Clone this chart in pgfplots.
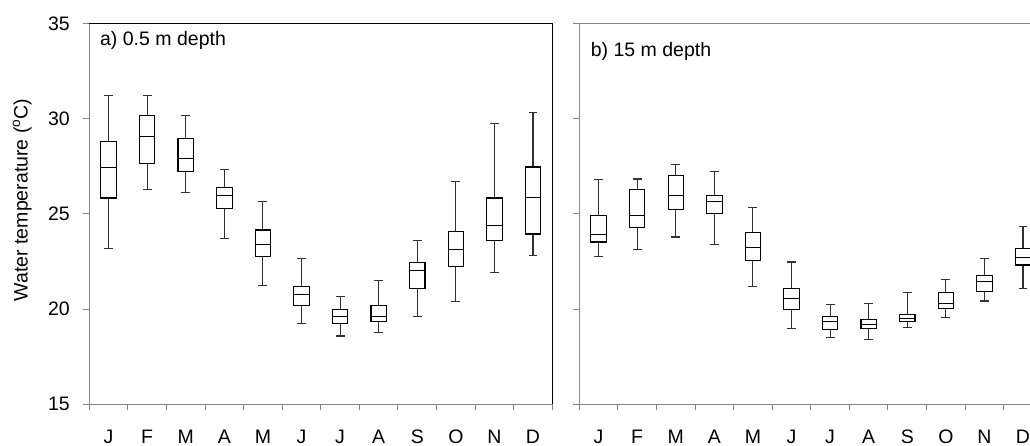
\documentclass[border=0pt]{standalone}
\usepackage{fontspec}
\setmainfont{Liberation Sans}
\usepackage{pgfplots}
\usepackage{pgfplotstable}
\pgfplotsset{compat=1.18}
\definecolor{axgray}{RGB}{134,134,134}
\definecolor{whisk}{RGB}{50,50,50}

% pos, lower whisker, lower quartile, median, upper quartile, upper whisker
\pgfplotstableread{
pos lw lq med uq uw
0.5 23.20 25.84 27.42 28.82 31.22
1.5 26.30 27.64 29.05 30.18 31.22
2.5 26.12 27.24 27.91 28.96 30.18
3.5 23.69 25.30 25.95 26.38 27.35
4.5 21.23 22.76 23.41 24.16 25.68
5.5 19.26 20.17 20.76 21.18 22.67
6.5 18.59 19.24 19.61 19.99 20.66
7.5 18.75 19.33 19.61 20.17 21.50
8.5 19.62 21.08 22.01 22.43 23.63
9.5 20.38 22.22 23.14 24.07 26.70
10.5 21.94 23.63 24.39 25.84 29.75
11.5 22.81 23.95 25.89 27.47 30.32
}\dataA
\pgfplotstableread{
pos lw lq med uq uw
0.5 22.76 23.53 23.91 24.93 26.79
1.5 23.14 24.28 24.93 26.30 26.84
2.5 23.79 25.25 25.96 27.01 27.59
3.5 23.41 25.04 25.65 25.96 27.22
4.5 21.20 22.55 23.25 24.02 25.32
5.5 18.98 19.99 20.55 21.09 22.48
6.5 18.52 18.91 19.36 19.61 20.25
7.5 18.42 18.96 19.20 19.45 20.31
8.5 19.03 19.34 19.52 19.73 20.87
9.5 19.57 20.04 20.31 20.87 21.57
10.5 20.43 20.92 21.44 21.78 22.67
11.5 21.09 22.32 22.72 23.20 24.33
}\dataB

\pgfplotsset{
  base/.style={
    scale only axis, width=463pt, height=380.6pt,
    xmin=0, xmax=12, ymin=15, ymax=35,
  },
  panel/.style={
    base,
    ytick={15,20,25,30,35},
    xtick={0.5,1.5,2.5,3.5,4.5,5.5,6.5,7.5,8.5,9.5,10.5,11.5},
    xticklabels={J,F,M,A,M,J,J,A,S,O,N,D},
    minor xtick={0,1,2,3,4,5,6,7,8,9,10,11,12},
    xtick pos=bottom, ytick pos=left,
    tick align=outside,
    major tick length=6pt, minor tick length=6pt,
    tick style={axgray, line width=1pt},
    major x tick style={draw=none},
    axis line style={axgray, line width=1.1pt},
    tick label style={font=\fontsize{19.5}{23}\selectfont},
    /pgf/number format/assume math mode=true,
    xticklabel style={anchor=north, inner sep=0pt, text depth=0pt, yshift=-19.7pt},
    yticklabel style={anchor=east, inner sep=0pt, xshift=-13.3pt},
    clip=false,
  },
  upw/.style={draw=none, mark=none, forget plot,
    error bars/.cd, y dir=plus, y explicit, error mark=|,
    error mark options={whisk, mark size=4.44pt, line width=1.1pt},
    error bar style={whisk, line width=1.1pt}},
  lowh/.style={draw=none, mark=none, forget plot,
    error bars/.cd, y dir=minus, y explicit, error mark=|,
    error mark options={whisk, mark size=4.44pt, line width=1.1pt},
    error bar style={whisk, line width=1.1pt}},
  med/.style={only marks, mark=-, mark size=7.72pt, forget plot,
    mark options={draw=black, line width=1.1pt}},
  boxes/.style={base, hide axis, ybar stacked, bar width=0.4, bar shift=0pt},
}
\begin{document}
\begin{tikzpicture}
\useasboundingbox (0,0) rectangle (1030pt,446pt);
\clip (0,0) rectangle (1030pt,446pt);
% ---------- panel a ----------
\begin{axis}[panel, at={(89.3pt,41.7pt)}, anchor=south west,
  ylabel={Water temperature (\textsuperscript{o}C)},
  ylabel style={at={(axis description cs:-0.145,0.537)}, anchor=center, font=\fontsize{19.5}{23}\selectfont}]
\addplot[upw] table[x=pos, y=uq, y error plus expr=\thisrow{uw}-\thisrow{uq}] {\dataA};
\addplot[lowh] table[x=pos, y=lq, y error minus expr=\thisrow{lq}-\thisrow{lw}] {\dataA};
\addplot[med] table[x=pos, y=med] {\dataA};
\draw[black, line width=1.1pt] (rel axis cs:0,1) -- (rel axis cs:1,1) -- (rel axis cs:1,0);
\node[anchor=base west, font=\fontsize{19.5}{23}\selectfont, inner sep=0pt] at (rel axis cs:0.023,0.9427) {a) 0.5 m depth};
\end{axis}
\begin{axis}[boxes, at={(89.3pt,41.7pt)}, anchor=south west]
\addplot[draw=none, fill=none] table[x=pos, y=lq] {\dataA};
\addplot[draw=black, fill=none, line width=1.1pt] table[x=pos, y expr=\thisrow{uq}-\thisrow{lq}] {\dataA};
\end{axis}
% ---------- panel b ----------
\begin{axis}[panel, at={(579.3pt,41.7pt)}, anchor=south west, yticklabels={}]
\addplot[upw] table[x=pos, y=uq, y error plus expr=\thisrow{uw}-\thisrow{uq}] {\dataB};
\addplot[lowh] table[x=pos, y=lq, y error minus expr=\thisrow{lq}-\thisrow{lw}] {\dataB};
\addplot[med] table[x=pos, y=med] {\dataB};
\node[anchor=base west, font=\fontsize{19.5}{23}\selectfont, inner sep=0pt] at (rel axis cs:0.0246,0.9138) {b) 15 m depth};
\end{axis}
\begin{axis}[boxes, at={(579.3pt,41.7pt)}, anchor=south west]
\addplot[draw=none, fill=none] table[x=pos, y=lq] {\dataB};
\addplot[draw=black, fill=none, line width=1.1pt] table[x=pos, y expr=\thisrow{uq}-\thisrow{lq}] {\dataB};
\end{axis}
\end{tikzpicture}
\end{document}
